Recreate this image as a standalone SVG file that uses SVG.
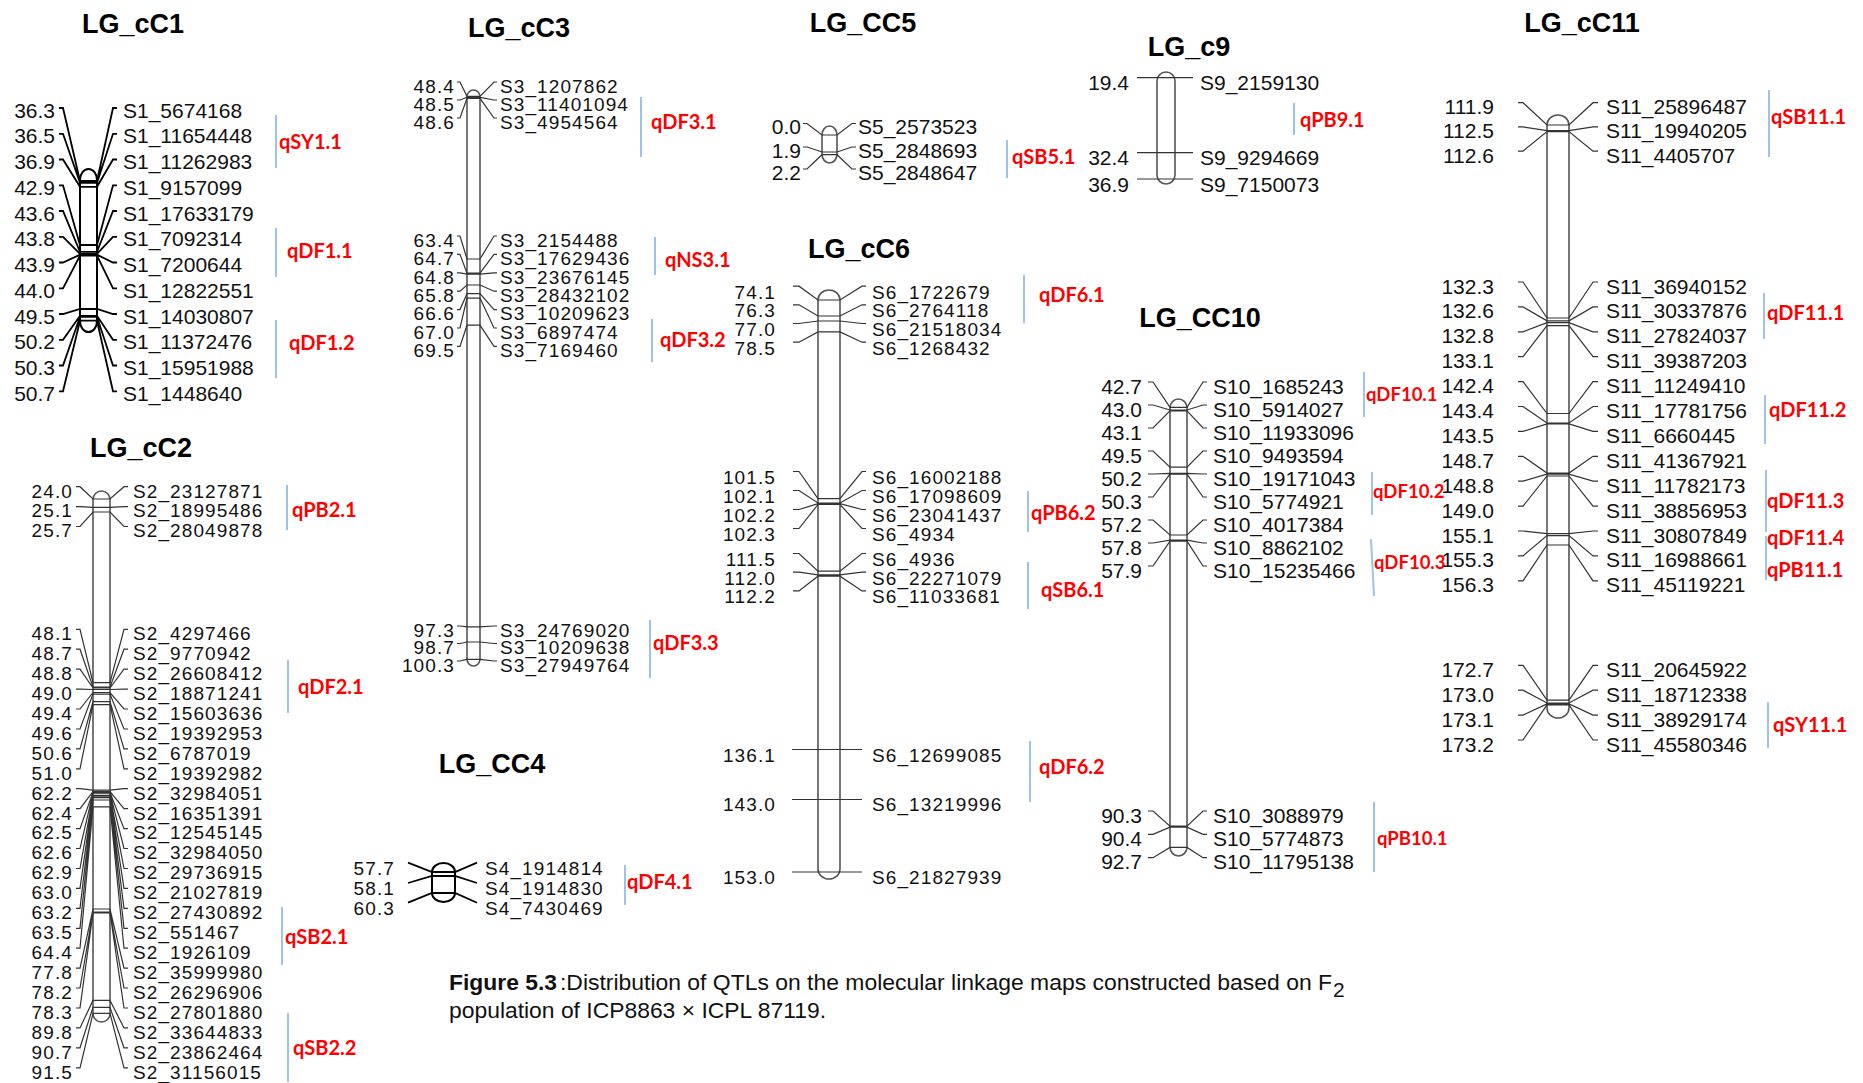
<svg xmlns="http://www.w3.org/2000/svg" width="1863" height="1083" viewBox="0 0 1863 1083">
<style>
text{font-family:"Liberation Sans",Arial,sans-serif;font-size:21px;fill:#111}
.n{text-anchor:end}
.ttl{font-weight:bold;font-size:27px;text-anchor:middle;fill:#000}
.q{font-family:Lato,"Open Sans",sans-serif;font-weight:bold;font-size:20px;fill:#ff0000}
#LG_CC10 .q{font-size:18.5px}
#LG_cC2 text:not(.ttl):not(.q),#LG_cC3 text:not(.ttl):not(.q),#LG_cC6 text:not(.ttl):not(.q),#LG_CC4 text:not(.ttl):not(.q){font-size:19px;letter-spacing:1.1px}
.bar{stroke:#9dc3e6;stroke-width:2}
.chr{fill:#fff;stroke:#555;stroke-width:1.6}
.chrb{fill:#fff;stroke:#000;stroke-width:2}
.c{fill:none;stroke:#333;stroke-width:1.2}
.cb{fill:none;stroke:#000;stroke-width:1.8}
.cap{font-size:22px}
</style>
<rect width="1863" height="1083" fill="#fff"/>

<g id="LG_cC1">
<text class="ttl" x="133" y="33">LG_cC1</text>
<rect class="chrb" x="80" y="169" width="17" height="163" rx="8.5" ry="11"/>
<text class="n" x="55" y="117.5">36.3</text><text class="n" x="55" y="143.3">36.5</text><text class="n" x="55" y="169">36.9</text><text class="n" x="55" y="194.8">42.9</text><text class="n" x="55" y="220.5">43.6</text><text class="n" x="55" y="246.3">43.8</text><text class="n" x="55" y="272">43.9</text><text class="n" x="55" y="297.8">44.0</text><text class="n" x="55" y="323.5">49.5</text><text class="n" x="55" y="349.3">50.2</text><text class="n" x="55" y="375">50.3</text><text class="n" x="55" y="400.8">50.7</text>
<text x="123" y="117.5">S1_5674168</text><text x="123" y="143.3">S1_11654448</text><text x="123" y="169">S1_11262983</text><text x="123" y="194.8">S1_9157099</text><text x="123" y="220.5">S1_17633179</text><text x="123" y="246.3">S1_7092314</text><text x="123" y="272">S1_7200644</text><text x="123" y="297.8">S1_12822551</text><text x="123" y="323.5">S1_14030807</text><text x="123" y="349.3">S1_11372476</text><text x="123" y="375">S1_15951988</text><text x="123" y="400.8">S1_1448640</text>
<line class="bar" x1="276" y1="115" x2="276" y2="168"/><text class="q" x="279" y="149">qSY1.1</text>
<line class="bar" x1="276" y1="228" x2="276" y2="277"/><text class="q" x="287" y="258">qDF1.1</text>
<line class="bar" x1="276" y1="320" x2="276" y2="378"/><text class="q" x="289" y="350">qDF1.2</text>
</g>

<g id="LG_cC2">
<text class="ttl" x="141" y="457">LG_cC2</text>
<rect class="chr" x="93" y="491" width="17" height="531" rx="8.5" ry="8.5"/>
<text class="n" x="73" y="497.5">24.0</text><text class="n" x="73" y="517.4">25.1</text><text class="n" x="73" y="537.3">25.7</text><text class="n" x="73" y="640.1">48.1</text><text class="n" x="73" y="660">48.7</text><text class="n" x="73" y="680">48.8</text><text class="n" x="73" y="699.9">49.0</text><text class="n" x="73" y="719.8">49.4</text><text class="n" x="73" y="739.8">49.6</text><text class="n" x="73" y="759.7">50.6</text><text class="n" x="73" y="779.6">51.0</text><text class="n" x="73" y="799.5">62.2</text><text class="n" x="73" y="819.5">62.4</text><text class="n" x="73" y="839.4">62.5</text><text class="n" x="73" y="859.3">62.6</text><text class="n" x="73" y="879.3">62.9</text><text class="n" x="73" y="899.2">63.0</text><text class="n" x="73" y="919.1">63.2</text><text class="n" x="73" y="939.1">63.5</text><text class="n" x="73" y="959">64.4</text><text class="n" x="73" y="978.9">77.8</text><text class="n" x="73" y="998.8">78.2</text><text class="n" x="73" y="1018.8">78.3</text><text class="n" x="73" y="1038.7">89.8</text><text class="n" x="73" y="1058.6">90.7</text><text class="n" x="73" y="1078.6">91.5</text>
<text x="133" y="497.5">S2_23127871</text><text x="133" y="517.4">S2_18995486</text><text x="133" y="537.3">S2_28049878</text><text x="133" y="640.1">S2_4297466</text><text x="133" y="660">S2_9770942</text><text x="133" y="680">S2_26608412</text><text x="133" y="699.9">S2_18871241</text><text x="133" y="719.8">S2_15603636</text><text x="133" y="739.8">S2_19392953</text><text x="133" y="759.7">S2_6787019</text><text x="133" y="779.6">S2_19392982</text><text x="133" y="799.5">S2_32984051</text><text x="133" y="819.5">S2_16351391</text><text x="133" y="839.4">S2_12545145</text><text x="133" y="859.3">S2_32984050</text><text x="133" y="879.3">S2_29736915</text><text x="133" y="899.2">S2_21027819</text><text x="133" y="919.1">S2_27430892</text><text x="133" y="939.1">S2_551467</text><text x="133" y="959">S2_1926109</text><text x="133" y="978.9">S2_35999980</text><text x="133" y="998.8">S2_26296906</text><text x="133" y="1018.8">S2_27801880</text><text x="133" y="1038.7">S2_33644833</text><text x="133" y="1058.6">S2_23862464</text><text x="133" y="1078.6">S2_31156015</text>
<line class="bar" x1="287" y1="485" x2="287" y2="530"/><text class="q" x="292" y="517">qPB2.1</text>
<line class="bar" x1="288" y1="660" x2="288" y2="713"/><text class="q" x="298" y="694">qDF2.1</text>
<line class="bar" x1="282" y1="907" x2="282" y2="965"/><text class="q" x="285" y="944">qSB2.1</text>
<line class="bar" x1="288" y1="1013" x2="288" y2="1082"/><text class="q" x="293" y="1055">qSB2.2</text>
</g>

<g id="LG_cC3">
<text class="ttl" x="519" y="37">LG_cC3</text>
<rect class="chr" x="467" y="90" width="13" height="576" rx="6.5" ry="7"/>
<text class="n" x="455" y="92.8">48.4</text><text class="n" x="455" y="110.8">48.5</text><text class="n" x="455" y="128.8">48.6</text><text class="n" x="455" y="246.8">63.4</text><text class="n" x="455" y="265.2">64.7</text><text class="n" x="455" y="283.6">64.8</text><text class="n" x="455" y="302">65.8</text><text class="n" x="455" y="320.4">66.6</text><text class="n" x="455" y="338.8">67.0</text><text class="n" x="455" y="357.2">69.5</text><text class="n" x="455" y="636.8">97.3</text><text class="n" x="455" y="654.3">98.7</text><text class="n" x="455" y="671.8">100.3</text>
<text x="500" y="92.8">S3_1207862</text><text x="500" y="110.8">S3_11401094</text><text x="500" y="128.8">S3_4954564</text><text x="500" y="246.8">S3_2154488</text><text x="500" y="265.2">S3_17629436</text><text x="500" y="283.6">S3_23676145</text><text x="500" y="302">S3_28432102</text><text x="500" y="320.4">S3_10209623</text><text x="500" y="338.8">S3_6897474</text><text x="500" y="357.2">S3_7169460</text><text x="500" y="636.8">S3_24769020</text><text x="500" y="654.3">S3_10209638</text><text x="500" y="671.8">S3_27949764</text>
<line class="bar" x1="641" y1="97" x2="641" y2="157"/><text class="q" x="651" y="129">qDF3.1</text>
<line class="bar" x1="655" y1="237" x2="655" y2="275"/><text class="q" x="665" y="267">qNS3.1</text>
<line class="bar" x1="652" y1="319" x2="652" y2="362"/><text class="q" x="660" y="347">qDF3.2</text>
<line class="bar" x1="650" y1="620" x2="650" y2="678"/><text class="q" x="653" y="650">qDF3.3</text>
</g>

<g id="LG_CC4">
<text class="ttl" x="492" y="773">LG_CC4</text>
<rect class="chrb" x="432" y="863" width="23" height="39" rx="11.5" ry="9"/>
<text class="n" x="395" y="875">57.7</text><text class="n" x="395" y="895">58.1</text><text class="n" x="395" y="915">60.3</text>
<text x="485" y="875">S4_1914814</text><text x="485" y="895">S4_1914830</text><text x="485" y="915">S4_7430469</text>
<line class="bar" x1="625" y1="865" x2="625" y2="905"/><text class="q" x="627" y="889">qDF4.1</text>
</g>

<g id="LG_CC5">
<text class="ttl" x="863" y="32">LG_CC5</text>
<rect class="chr" x="822" y="126" width="15" height="37" rx="7.5" ry="9"/>
<text class="n" x="801" y="134.2">0.0</text><text class="n" x="801" y="157.5">1.9</text><text class="n" x="801" y="179.5">2.2</text>
<text x="858" y="134.2">S5_2573523</text><text x="858" y="157.5">S5_2848693</text><text x="858" y="179.5">S5_2848647</text>
<line class="bar" x1="1007" y1="140" x2="1007" y2="178"/><text class="q" x="1012" y="164">qSB5.1</text>
</g>

<g id="LG_cC6">
<text class="ttl" x="859" y="258">LG_cC6</text>
<rect class="chr" x="818" y="290" width="22" height="589" rx="11" ry="10"/>
<text class="n" x="776" y="298.5">74.1</text><text class="n" x="776" y="317.1">76.3</text><text class="n" x="776" y="335.8">77.0</text><text class="n" x="776" y="354.5">78.5</text><text class="n" x="776" y="483.8">101.5</text><text class="n" x="776" y="502.8">102.1</text><text class="n" x="776" y="521.8">102.2</text><text class="n" x="776" y="540.8">102.3</text><text class="n" x="776" y="565.8">111.5</text><text class="n" x="776" y="584.5">112.0</text><text class="n" x="776" y="603.2">112.2</text><text class="n" x="776" y="761.8">136.1</text><text class="n" x="776" y="810.8">143.0</text><text class="n" x="776" y="883.5">153.0</text>
<text x="872" y="298.5">S6_1722679</text><text x="872" y="317.1">S6_2764118</text><text x="872" y="335.8">S6_21518034</text><text x="872" y="354.5">S6_1268432</text><text x="872" y="483.8">S6_16002188</text><text x="872" y="502.8">S6_17098609</text><text x="872" y="521.8">S6_23041437</text><text x="872" y="540.8">S6_4934</text><text x="872" y="565.8">S6_4936</text><text x="872" y="584.5">S6_22271079</text><text x="872" y="603.2">S6_11033681</text><text x="872" y="761.8">S6_12699085</text><text x="872" y="810.8">S6_13219996</text><text x="872" y="883.5">S6_21827939</text>
<line class="bar" x1="1024" y1="275" x2="1024" y2="323"/><text class="q" x="1039" y="302">qDF6.1</text>
<line class="bar" x1="1028" y1="491" x2="1028" y2="532"/><text class="q" x="1031" y="520">qPB6.2</text>
<line class="bar" x1="1028" y1="562" x2="1028" y2="609"/><text class="q" x="1041" y="597">qSB6.1</text>
<line class="bar" x1="1030" y1="741" x2="1030" y2="802"/><text class="q" x="1039" y="774">qDF6.2</text>
</g>

<g id="LG_c9">
<text class="ttl" x="1189" y="56">LG_c9</text>
<rect class="chr" x="1157" y="72" width="18" height="112" rx="9" ry="9"/>
<text class="n" x="1129" y="90.2">19.4</text><text class="n" x="1129" y="165.2">32.4</text><text class="n" x="1129" y="191.5">36.9</text>
<text x="1200" y="90.2">S9_2159130</text><text x="1200" y="165.2">S9_9294669</text><text x="1200" y="191.5">S9_7150073</text>
<line class="bar" x1="1294" y1="103" x2="1294" y2="135"/><text class="q" x="1300" y="127">qPB9.1</text>
</g>

<g id="LG_CC10">
<text class="ttl" x="1200" y="327">LG_CC10</text>
<rect class="chr" x="1170" y="399" width="17" height="457" rx="8.5" ry="9"/>
<text class="n" x="1142" y="393.5">42.7</text><text class="n" x="1142" y="416.5">43.0</text><text class="n" x="1142" y="439.5">43.1</text><text class="n" x="1142" y="462.5">49.5</text><text class="n" x="1142" y="485.5">50.2</text><text class="n" x="1142" y="508.5">50.3</text><text class="n" x="1142" y="531.5">57.2</text><text class="n" x="1142" y="554.5">57.8</text><text class="n" x="1142" y="577.5">57.9</text><text class="n" x="1142" y="822.5">90.3</text><text class="n" x="1142" y="845.8">90.4</text><text class="n" x="1142" y="869.2">92.7</text>
<text x="1213" y="393.5">S10_1685243</text><text x="1213" y="416.5">S10_5914027</text><text x="1213" y="439.5">S10_11933096</text><text x="1213" y="462.5">S10_9493594</text><text x="1213" y="485.5">S10_19171043</text><text x="1213" y="508.5">S10_5774921</text><text x="1213" y="531.5">S10_4017384</text><text x="1213" y="554.5">S10_8862102</text><text x="1213" y="577.5">S10_15235466</text><text x="1213" y="822.5">S10_3088979</text><text x="1213" y="845.8">S10_5774873</text><text x="1213" y="869.2">S10_11795138</text>
<line class="bar" x1="1364" y1="372" x2="1364" y2="417"/><text class="q" x="1366" y="401">qDF10.1</text>
<line class="bar" x1="1372" y1="472" x2="1372" y2="515"/><text class="q" x="1373" y="498">qDF10.2</text>
<line class="bar" x1="1371" y1="539" x2="1374" y2="596"/><text class="q" x="1374" y="569">qDF10.3</text>
<line class="bar" x1="1374" y1="802" x2="1374" y2="872"/><text class="q" x="1377" y="845">qPB10.1</text>
</g>

<g id="LG_cC11">
<text class="ttl" x="1582" y="32">LG_cC11</text>
<rect class="chr" x="1547" y="115" width="22" height="603" rx="11" ry="10"/>
<text class="n" x="1494" y="114.2">111.9</text><text class="n" x="1494" y="138.4">112.5</text><text class="n" x="1494" y="162.6">112.6</text><text class="n" x="1494" y="293.5">132.3</text><text class="n" x="1494" y="318.4">132.6</text><text class="n" x="1494" y="343.3">132.8</text><text class="n" x="1494" y="368.2">133.1</text><text class="n" x="1494" y="393.1">142.4</text><text class="n" x="1494" y="418">143.4</text><text class="n" x="1494" y="442.9">143.5</text><text class="n" x="1494" y="467.8">148.7</text><text class="n" x="1494" y="492.7">148.8</text><text class="n" x="1494" y="517.6">149.0</text><text class="n" x="1494" y="542.5">155.1</text><text class="n" x="1494" y="567.4">155.3</text><text class="n" x="1494" y="592.3">156.3</text><text class="n" x="1494" y="676.8">172.7</text><text class="n" x="1494" y="701.7">173.0</text><text class="n" x="1494" y="726.6">173.1</text><text class="n" x="1494" y="751.5">173.2</text>
<text x="1606" y="114.2">S11_25896487</text><text x="1606" y="138.4">S11_19940205</text><text x="1606" y="162.6">S11_4405707</text><text x="1606" y="293.5">S11_36940152</text><text x="1606" y="318.4">S11_30337876</text><text x="1606" y="343.3">S11_27824037</text><text x="1606" y="368.2">S11_39387203</text><text x="1606" y="393.1">S11_11249410</text><text x="1606" y="418">S11_17781756</text><text x="1606" y="442.9">S11_6660445</text><text x="1606" y="467.8">S11_41367921</text><text x="1606" y="492.7">S11_11782173</text><text x="1606" y="517.6">S11_38856953</text><text x="1606" y="542.5">S11_30807849</text><text x="1606" y="567.4">S11_16988661</text><text x="1606" y="592.3">S11_45119221</text><text x="1606" y="676.8">S11_20645922</text><text x="1606" y="701.7">S11_18712338</text><text x="1606" y="726.6">S11_38929174</text><text x="1606" y="751.5">S11_45580346</text>
<line class="bar" x1="1769" y1="90" x2="1769" y2="157"/><text class="q" x="1771" y="124">qSB11.1</text>
<line class="bar" x1="1764" y1="293" x2="1764" y2="339"/><text class="q" x="1767" y="320">qDF11.1</text>
<line class="bar" x1="1765" y1="395" x2="1765" y2="444"/><text class="q" x="1769" y="417">qDF11.2</text>
<line class="bar" x1="1766" y1="470" x2="1766" y2="532"/><text class="q" x="1767" y="508">qDF11.3</text>
<line class="bar" x1="1766" y1="536" x2="1766" y2="580"/><text class="q" x="1767" y="545">qDF11.4</text><text class="q" x="1767" y="577">qPB11.1</text>
<line class="bar" x1="1768" y1="702" x2="1768" y2="748"/><text class="q" x="1773" y="732">qSY11.1</text>
</g>

<g id="connectors">
<path class="cb" d="M59 108H63L80 181H97L113 108H117M59 133.8H63L80 182.9H97L113 133.8H117M59 159.5H63L80 186.8H97L113 159.5H117M59 185.3H63L80 245H97L113 185.3H117M59 211H63L80 251.8H97L113 211H117M59 236.8H63L80 253.8H97L113 236.8H117M59 262.5H63L80 254.7H97L113 262.5H117M59 288.3H63L80 255.7H97L113 288.3H117M59 314H63L80 309H97L113 314H117M59 339.8H63L80 315.8H97L113 339.8H117M59 365.5H63L80 316.8H97L113 365.5H117M59 391.3H63L80 320.7H97L113 391.3H117"/>
<path class="c" d="M76 486.7H80L93 499H110L124 486.7H128M76 506.6H80L93 507.4H110L124 506.6H128M76 526.5H80L93 512H110L124 526.5H128M76 629.3H80L93 682.6H110L124 629.3H128M76 649.2H80L93 687.2H110L124 649.2H128M76 669.2H80L93 688H110L124 669.2H128M76 689.1H80L93 689.5H110L124 689.1H128M76 709H80L93 692.5H110L124 709H128M76 729H80L93 694.1H110L124 729H128M76 748.9H80L93 701.7H110L124 748.9H128M76 768.8H80L93 704.7H110L124 768.8H128M76 788.7H80L93 790.1H110L124 788.7H128M76 808.7H80L93 791.6H110L124 808.7H128M76 828.6H80L93 792.4H110L124 828.6H128M76 848.5H80L93 793.1H110L124 848.5H128M76 868.5H80L93 795.4H110L124 868.5H128M76 888.4H80L93 796.2H110L124 888.4H128M76 908.3H80L93 797.7H110L124 908.3H128M76 928.3H80L93 800H110L124 928.3H128M76 948.2H80L93 806.8H110L124 948.2H128M76 968.1H80L93 909H110L124 968.1H128M76 988H80L93 912H110L124 988H128M76 1008H80L93 912.8H110L124 1008H128M76 1027.9H80L93 1000.4H110L124 1027.9H128M76 1047.8H80L93 1007.3H110L124 1047.8H128M76 1067.8H80L93 1013.4H110L124 1067.8H128"/>
<path class="c" d="M457 82H460L467 96.3H480L494 82H497M457 100H460L467 97.3H480L494 100H497M457 118H460L467 98.4H480L494 118H497M457 236H460L467 259H480L494 236H497M457 254.4H460L467 273.1H480L494 254.4H497M457 272.8H460L467 274.2H480L494 272.8H497M457 291.2H460L467 285H480L494 291.2H497M457 309.6H460L467 293.7H480L494 309.6H497M457 328H460L467 298.1H480L494 328H497M457 346.4H460L467 325.2H480L494 346.4H497M457 626H460L467 626.8H480L494 626H497M457 643.5H460L467 642H480L494 643.5H497M457 661H460L467 659.4H480L494 661H497"/>
<path class="cb" d="M408 862.7L432 872H455L477 862.7M408 883L432 876H455L477 883M408 902.7L432 893H455L477 902.7"/>
<path class="c" d="M803 123.5H807L822 135H837L852 123.5H856M803 147H807L822 152H837L852 147H856M803 169H807L822 154.7H837L852 169H856"/>
<path class="c" d="M793 286.2H799L818 300H840L862 286.2H866M793 304.8H799L818 316H840L862 304.8H866M793 323.5H799L818 321H840L862 323.5H866M793 342.2H799L818 331.9H840L862 342.2H866M793 471.5H799L818 498.7H840L862 471.5H866M793 490.5H799L818 503H840L862 490.5H866M793 509.5H799L818 503.7H840L862 509.5H866M793 528.5H799L818 504.5H840L862 528.5H866M793 553.5H799L818 571.2H840L862 553.5H866M793 572.2H799L818 574.8H840L862 572.2H866M793 590.9H799L818 576.2H840L862 590.9H866M792 749.5H862M792 799.5H862M792 872H862"/>
<path class="c" d="M1137 77.7H1193M1137 152.7H1193M1137 179H1193"/>
<path class="c" d="M1148 382H1153L1170 407.4H1187L1203 382H1207M1148 405H1153L1170 410H1187L1203 405H1207M1148 428H1153L1170 410.9H1187L1203 428H1207M1148 451H1153L1170 467.2H1187L1203 451H1207M1148 474H1153L1170 473.4H1187L1203 474H1207M1148 497H1153L1170 474.2H1187L1203 497H1207M1148 520H1153L1170 535H1187L1203 520H1207M1148 543H1153L1170 540.2H1187L1203 543H1207M1148 566H1153L1170 541.1H1187L1203 566H1207M1148 811H1153L1170 826.2H1187L1203 811H1207M1148 834.3H1153L1170 827.1H1187L1203 834.3H1207M1148 857.7H1153L1170 847.4H1187L1203 857.7H1207"/>
<path class="c" d="M1518 102.7H1523L1547 125H1569L1593 102.7H1598M1518 126.9H1523L1547 130.7H1569L1593 126.9H1598M1518 151.1H1523L1547 131.6H1569L1593 151.1H1598M1518 282H1523L1547 318H1569L1593 282H1598M1518 306.9H1523L1547 320.8H1569L1593 306.9H1598M1518 331.8H1523L1547 322.7H1569L1593 331.8H1598M1518 356.7H1523L1547 325.6H1569L1593 356.7H1598M1518 381.6H1523L1547 413.5H1569L1593 381.6H1598M1518 406.5H1523L1547 423H1569L1593 406.5H1598M1518 431.4H1523L1547 423.9H1569L1593 431.4H1598M1518 456.3H1523L1547 473.1H1569L1593 456.3H1598M1518 481.2H1523L1547 474.1H1569L1593 481.2H1598M1518 506.1H1523L1547 476H1569L1593 506.1H1598M1518 531H1523L1547 533.7H1569L1593 531H1598M1518 555.9H1523L1547 535.6H1569L1593 555.9H1598M1518 580.8H1523L1547 545H1569L1593 580.8H1598M1518 665.3H1523L1547 700.2H1569L1593 665.3H1598M1518 690.2H1523L1547 703H1569L1593 690.2H1598M1518 715.1H1523L1547 703.9H1569L1593 715.1H1598M1518 740H1523L1547 704.9H1569L1593 740H1598"/>
</g>

<g id="caption">
<text class="cap" x="449" y="990" font-weight="bold" textLength="108" lengthAdjust="spacingAndGlyphs">Figure 5.3</text>
<text class="cap" x="560" y="990" textLength="772" lengthAdjust="spacingAndGlyphs">:Distribution of QTLs on the molecular linkage maps constructed based on F</text>
<text x="1333" y="997" font-size="14">2</text>
<text class="cap" x="449" y="1018" textLength="377" lengthAdjust="spacingAndGlyphs">population of ICP8863 × ICPL 87119.</text>
</g>
</svg>
